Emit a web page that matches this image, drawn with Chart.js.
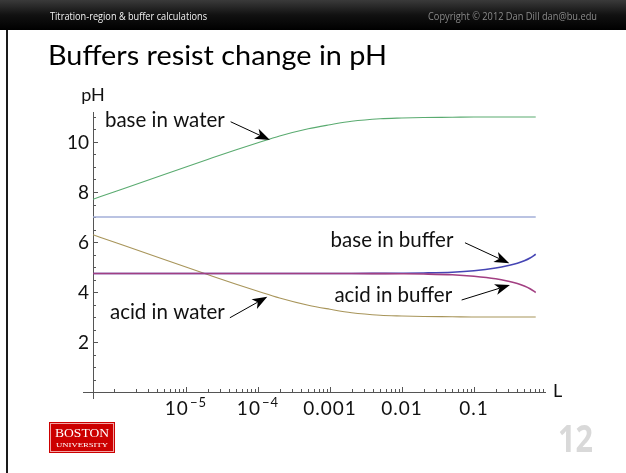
<!DOCTYPE html>
<html><head><meta charset="utf-8">
<script src="https://cdn.jsdelivr.net/npm/chart.js@4/dist/chart.umd.min.js"></script>
<style>html,body{margin:0;padding:0;background:#fff;overflow:hidden}canvas{display:block}</style>
</head><body>
<canvas id="c" width="626" height="473"></canvas>
<script>
// ---- data ----
const L = [5.13e-7, 1e-6, 2e-6, 5e-6, 1e-5, 2e-5, 5e-5, 1e-4, 2e-4, 5e-4, 1e-3, 2e-3, 5e-3, 0.01, 0.02, 0.05, 0.1, 0.2, 0.3, 0.4, 0.5, 0.6, 0.72];
const acidInWater  = [6.29, 6.0, 5.7, 5.3, 5.0, 4.7, 4.31, 4.03, 3.76, 3.47, 3.31, 3.17, 3.07, 3.04, 3.02, 3.01, 3.0, 3.0, 3.0, 3.0, 3.0, 3.0, 3.0];
const baseInWater  = [7.71, 8.0, 8.3, 8.7, 9.0, 9.3, 9.69, 9.97, 10.24, 10.53, 10.69, 10.83, 10.93, 10.96, 10.98, 10.99, 11.0, 11.0, 11.0, 11.0, 11.0, 11.0, 11.0];
const pureWater    = [7, 7, 7, 7, 7, 7, 7, 7, 7, 7, 7, 7, 7, 7, 7, 7, 7, 7, 7, 7, 7, 7, 7];
const acidInBuffer = [4.74, 4.74, 4.74, 4.74, 4.74, 4.74, 4.74, 4.74, 4.74, 4.74, 4.74, 4.74, 4.735, 4.73, 4.72, 4.69, 4.63, 4.53, 4.43, 4.34, 4.24, 4.13, 3.98];
const baseInBuffer = [4.74, 4.74, 4.74, 4.74, 4.74, 4.74, 4.74, 4.74, 4.74, 4.74, 4.74, 4.74, 4.745, 4.75, 4.76, 4.79, 4.85, 4.96, 5.06, 5.15, 5.25, 5.36, 5.51];

const xMajorTicks = [1e-5, 1e-4, 1e-3, 1e-2, 1e-1];
const xTickLabels = [['10', '−5'], ['10', '−4'], ['0.001'], ['0.01'], ['0.1']];
const yMajorTicks = [2, 4, 6, 8, 10];
const yTickLabels = ['2', '4', '6', '8', '10'];

const annotations = [
  { text: 'base in water',  at: [5.1e-6, 10.61],  from: [4.18e-5, 10.81], to: [1.47e-4, 10.08] },
  { text: 'acid in water',  at: [5.53e-6, 2.91],  from: [4.08e-5, 2.97],  to: [1.35e-4, 3.81] },
  { text: 'base in buffer', at: [7.27e-3, 5.79],  from: [0.075, 5.97],    to: [0.309, 5.15] },
  { text: 'acid in buffer', at: [7.57e-3, 3.59],  from: [0.0674, 3.68],   to: [0.316, 4.28] }
];

// ---- helpers ----
const pts = arr => L.map((x, i) => ({ x: x, y: arr[i] }));
const AXFONT = '"Lato", "DejaVu Sans", sans-serif';

function fitText(ctx, text, x, y, font, width) {
  ctx.font = font;
  const w = ctx.measureText(text).width;
  const s = width ? width / w : 1;
  ctx.save();
  ctx.translate(x, y);
  ctx.scale(s, 1);
  ctx.textAlign = 'left';
  ctx.fillText(text, 0, 0);
  ctx.restore();
}

function arrow(ctx, x1, y1, x2, y2) {
  const a = Math.atan2(y2 - y1, x2 - x1);
  const len = 15, hw = 5.5, notch = 11;
  const ca = Math.cos(a), sa = Math.sin(a);
  ctx.save();
  ctx.strokeStyle = '#000';
  ctx.fillStyle = '#000';
  ctx.lineWidth = 1;
  ctx.beginPath();
  ctx.moveTo(x1, y1);
  ctx.lineTo(x2 - ca * notch, y2 - sa * notch);
  ctx.stroke();
  ctx.beginPath();
  ctx.moveTo(x2, y2);
  ctx.lineTo(x2 - ca * len - sa * hw, y2 - sa * len + ca * hw);
  ctx.lineTo(x2 - ca * notch, y2 - sa * notch);
  ctx.lineTo(x2 - ca * len + sa * hw, y2 - sa * len - ca * hw);
  ctx.closePath();
  ctx.fill();
  ctx.restore();
}

const slidePlugin = {
  id: 'slide',
  beforeDraw(chart) {
    const ctx = chart.ctx;
    ctx.save();
    ctx.fillStyle = '#fff';
    ctx.fillRect(0, 0, chart.width, chart.height);
    // header band
    const g = ctx.createLinearGradient(0, 0, 0, 30);
    g.addColorStop(0, '#3a3a3a');
    g.addColorStop(0.5, '#111');
    g.addColorStop(1, '#000');
    ctx.fillStyle = g;
    ctx.fillRect(0, 0, chart.width, 30);
    ctx.textBaseline = 'alphabetic';
    ctx.fillStyle = '#f2f2f2';
    fitText(ctx, 'Titration-region & buffer calculations', 50, 20, '10px "Open Sans", sans-serif', 157);
    ctx.fillStyle = '#8a8a8a';
    fitText(ctx, 'Copyright © 2012 Dan Dill dan@bu.edu', 428, 20, '10px "Open Sans", sans-serif', 169);
    // left rule
    ctx.fillStyle = '#1a1a1a';
    ctx.fillRect(6, 30, 2, chart.height - 30);
    // title
    ctx.fillStyle = '#000';
    fitText(ctx, 'Buffers resist change in pH', 48, 65, '26px "Lato", sans-serif', 339);
    // BU logo
    ctx.fillStyle = '#cc0000';
    ctx.fillRect(49, 422, 66, 31);
    ctx.strokeStyle = 'rgba(255,220,220,0.75)';
    ctx.lineWidth = 1;
    ctx.strokeRect(50.5, 423.5, 63, 28);
    ctx.fillStyle = '#fff';
    fitText(ctx, 'BOSTON', 55, 437, '12px "Liberation Serif", serif', 54);
    fitText(ctx, 'UNIVERSITY', 56, 447, '7px "Liberation Serif", serif', 52);
    // slide number
    ctx.fillStyle = '#d9d9d9';
    fitText(ctx, '12', 558, 452, 'bold 37px "Open Sans", sans-serif', 35);
    ctx.restore();
  },
  beforeDatasetsDraw(chart) {
    const ctx = chart.ctx;
    const xs = chart.scales.x, ys = chart.scales.y;
    const ox = xs.getPixelForValue(xs.min), oy = ys.getPixelForValue(0);
    const top = ys.getPixelForValue(ys.max), right = xs.getPixelForValue(xs.max);
    ctx.save();
    ctx.strokeStyle = '#555';
    ctx.lineWidth = 1;
    ctx.beginPath();
    ctx.moveTo(ox - 10, Math.round(oy) + 0.5);
    ctx.lineTo(right, Math.round(oy) + 0.5);
    ctx.moveTo(Math.round(ox) + 0.5, oy + 7);
    ctx.lineTo(Math.round(ox) + 0.5, top);
    // x ticks (inward)
    for (let e = -6; e <= -1; e++) {
      for (let k = 1; k <= 9; k++) {
        const v = k * Math.pow(10, e);
        if (v < xs.min || v > xs.max) continue;
        const major = (k === 1 && e >= -5);
        const px = Math.round(xs.getPixelForValue(v)) + 0.5;
        ctx.moveTo(px, oy);
        ctx.lineTo(px, oy - (major ? 5 : 3));
      }
    }
    // y ticks (inward)
    for (let v = 0.5; v <= ys.max; v += 0.5) {
      const major = Math.abs(v % 2) < 1e-9;
      const py = Math.round(ys.getPixelForValue(v)) + 0.5;
      ctx.moveTo(ox, py);
      ctx.lineTo(ox + (major ? 5 : 3), py);
    }
    ctx.stroke();
    // tick labels
    ctx.fillStyle = '#111';
    ctx.textBaseline = 'middle';
    ctx.textAlign = 'right';
    ctx.font = '19px ' + AXFONT;
    yMajorTicks.forEach((v, i) => {
      ctx.fillText(yTickLabels[i], ox - 4, ys.getPixelForValue(v) + 1);
    });
    ctx.textBaseline = 'alphabetic';
    ctx.textAlign = 'left';
    ctx.letterSpacing = '1px';
    xMajorTicks.forEach((v, i) => {
      const lab = xTickLabels[i];
      const px = xs.getPixelForValue(v);
      ctx.font = '19px ' + AXFONT;
      const w1 = ctx.measureText(lab[0]).width;
      let w2 = 0;
      if (lab[1]) { ctx.font = '13px ' + AXFONT; w2 = ctx.measureText(lab[1]).width + 1; }
      const x0 = px - (w1 + w2) / 2;
      ctx.font = '19px ' + AXFONT;
      ctx.fillText(lab[0], x0, oy + 23);
      if (lab[1]) { ctx.font = '13px ' + AXFONT; ctx.fillText(lab[1], x0 + w1 + 1, oy + 15); }
    });
    ctx.letterSpacing = '0px';
    // axis names
    ctx.font = '18px ' + AXFONT;
    ctx.textAlign = 'center';
    ctx.fillText('pH', ox, top - 11);
    ctx.textAlign = 'left';
    ctx.textBaseline = 'middle';
    ctx.fillText('L', right + 7, oy - 1);
    ctx.restore();
  },
  afterDatasetsDraw(chart) {
    const ctx = chart.ctx;
    const xs = chart.scales.x, ys = chart.scales.y;
    ctx.save();
    ctx.fillStyle = '#111';
    ctx.font = '20.5px ' + AXFONT;
    ctx.textAlign = 'center';
    ctx.textBaseline = 'alphabetic';
    annotations.forEach(a => {
      ctx.fillText(a.text, xs.getPixelForValue(a.at[0]), ys.getPixelForValue(a.at[1]));
      arrow(ctx, xs.getPixelForValue(a.from[0]), ys.getPixelForValue(a.from[1]),
                 xs.getPixelForValue(a.to[0]), ys.getPixelForValue(a.to[1]));
    });
    ctx.restore();
  }
};

const ds = (label, arr, color, width, order) => ({
  label, data: pts(arr), borderColor: color, borderWidth: width, order,
  pointRadius: 0, fill: false, cubicInterpolationMode: 'monotone'
});

new Chart(document.getElementById('c'), {
  type: 'line',
  data: {
    datasets: [
      ds('acid in buffer', acidInBuffer, '#a23f82', 1.6, 0),
      ds('base in buffer', baseInBuffer, '#4545b4', 1.6, 1),
      ds('acid in water', acidInWater, '#a8955a', 1.1, 2),
      ds('base in water', baseInWater, '#5aab70', 1.1, 3),
      ds('water', pureWater, '#a3afd9', 1.6, 4)
    ]
  },
  options: {
    responsive: false,
    animation: false,
    layout: { padding: { left: 93, top: 112, right: 80, bottom: 81 } },
    scales: {
      x: { type: 'logarithmic', min: 5.13e-7, max: 1, display: false },
      y: { type: 'linear', min: 0, max: 11.2, display: false }
    },
    plugins: { legend: { display: false }, tooltip: { enabled: false } }
  },
  plugins: [slidePlugin]
});
</script>
</body></html>
